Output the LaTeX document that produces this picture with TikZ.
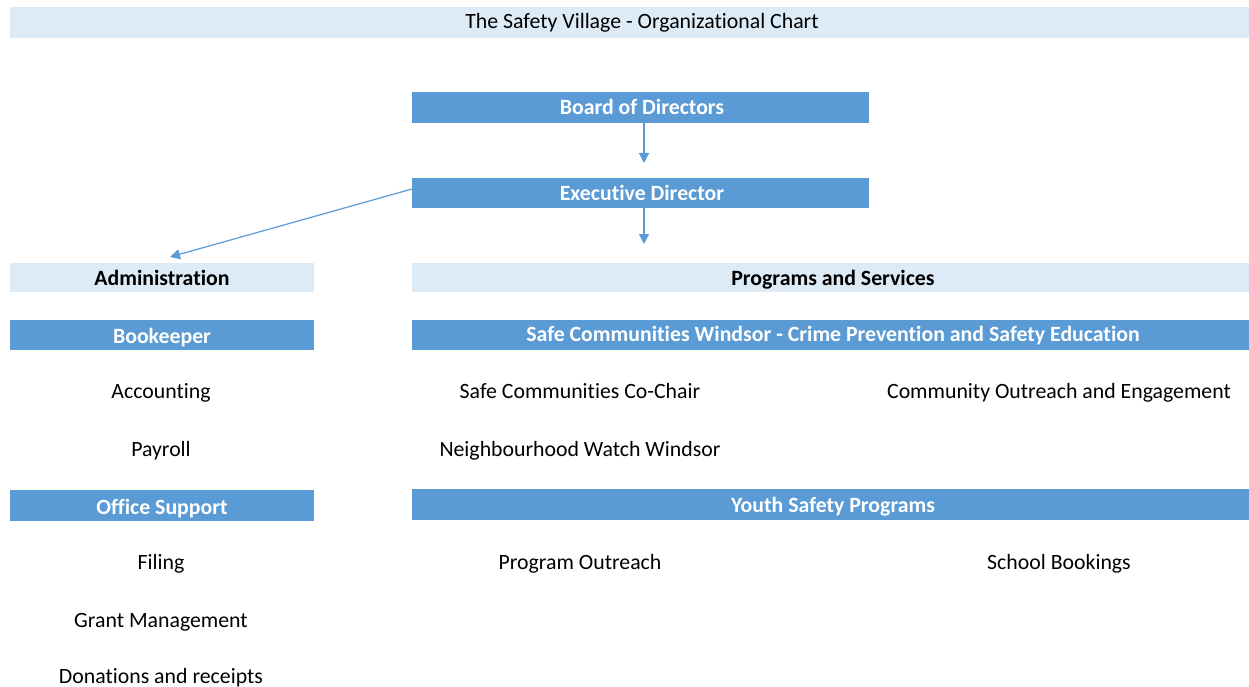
\documentclass[tikz,border=0pt]{standalone}
\usepackage{fontspec}
\setmainfont{Carlito}[Ligatures={NoCommon}]
\usetikzlibrary{arrows.meta}
\definecolor{barblue}{HTML}{5B9BD5}
\definecolor{paleblue}{HTML}{DDEBF7}
\begin{document}
\begin{tikzpicture}[x=1pt,y=-1pt,
  every node/.style={font=\fontsize{21.8}{24}\selectfont, inner sep=0pt, outer sep=0pt,
    text height=14pt, text depth=0pt},
  darktext/.style={text=white, font=\fontsize{21.8}{24}\selectfont\bfseries},
  headtext/.style={text=black, font=\fontsize{21.8}{24}\selectfont\bfseries},
  item/.style={text=black},
  link/.style={draw=barblue, line width=1.2pt, -{Triangle[length=10pt,width=10pt]}}]
\useasboundingbox (0,0) rectangle (1249,687);
% bars drawn as rectangles, labels as named nodes
\fill[paleblue] (10,7) rectangle (1249,38);
\node[item] (title) at (642,21.5) {The Safety Village - Organizational Chart};

\fill[barblue] (412,92) rectangle (869,123);
\node[darktext] (board) at (642,108) {Board of Directors};
\coordinate (boardB) at (644,123);

\fill[barblue] (412,178) rectangle (869,208);
\node[darktext] (exec) at (642,193.5) {Executive Director};
\coordinate (execB) at (644,208);
\coordinate (execL) at (412,189);

\coordinate (execT) at (644,163);
\coordinate (progT) at (644,244);
\coordinate (adminT) at (170,257);

\draw[link] (boardB) -- (execT);
\draw[link] (execB) -- (progT);
\draw[link] (execL) -- (adminT);

\fill[paleblue] (10,263) rectangle (314,292);
\node[headtext] (admin) at (162,278) {Administration};
\fill[paleblue] (412,263) rectangle (1249,292);
\node[headtext] (prog) at (833,278) {Programs and Services};

\fill[barblue] (10,320) rectangle (314,350);
\node[darktext] (book) at (162,336) {Bookeeper};
\fill[barblue] (412,320) rectangle (1249,350);
\node[darktext] (safe) at (833,334) {Safe Communities Windsor - Crime Prevention and Safety Education};

\node[item] (acc) at (161,391) {Accounting};
\node[item] (pay) at (161,449) {Payroll};
\node[item] (cochair) at (580,391) {Safe Communities Co-Chair};
\node[item] (nww) at (580,449) {Neighbourhood Watch Windsor};
\node[item] (coe) at (1059,391) {Community Outreach and Engagement};

\fill[barblue] (10,490) rectangle (314,521);
\node[darktext] (office) at (162,507) {Office Support};
\fill[barblue] (412,489) rectangle (1249,520);
\node[darktext] (youth) at (833,505) {Youth Safety Programs};

\node[item] (filing) at (161,562) {Filing};
\node[item] (grant) at (161,620) {Grant Management};
\node[item] (don) at (161,676) {Donations and receipts};
\node[item] (po) at (580,562) {Program Outreach};
\node[item] (sb) at (1059,562) {School Bookings};
\end{tikzpicture}
\end{document}
